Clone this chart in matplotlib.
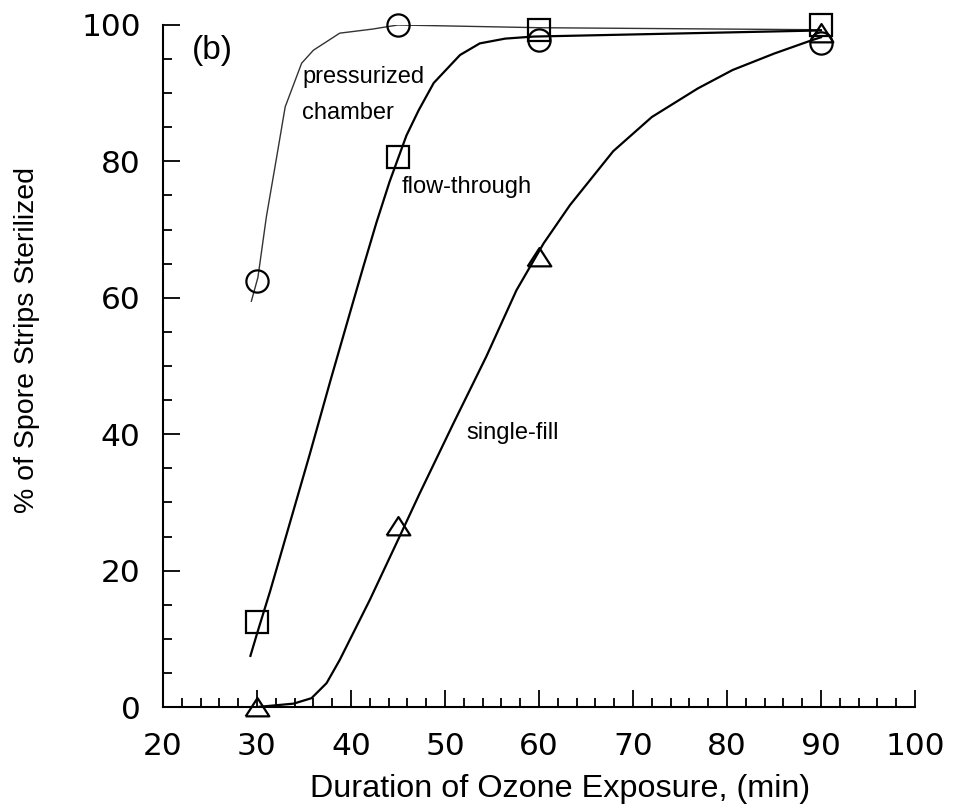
import matplotlib
matplotlib.use('Agg')
import matplotlib.pyplot as plt
from matplotlib.ticker import MultipleLocator

# %% punkty pomiarowe
czas = [30, 45, 60, 90]
komora = [62.5, 100, 97.8, 97.4]        # pressurized chamber (kolka)
przeplyw = [12.5, 80.6, 99.3, 100]      # flow-through (kwadraty)
jednorazowe = [0, 26.5, 66, 98.8]       # single-fill (trojkaty)

# %% krzywe
komora_x = [29.4, 30.1, 31.0, 32.1, 33.0, 34.75, 36.0, 38.8, 42.3, 45.0, 60.0, 90.0]
komora_y = [59.5, 63.0, 71.9, 80.7, 88.0, 94.4, 96.3, 98.8, 99.4, 100.0, 99.6, 99.3]

przeplyw_x = [29.3, 30.1, 31.4, 33.5, 35.6, 37.8, 40.1, 41.3, 42.7, 44.1, 45.0, 45.9,
              47.2, 48.8, 51.6, 53.7, 56.4, 59.4, 90.0]
przeplyw_y = [7.5, 11.2, 17.0, 27.0, 37.0, 47.8, 58.8, 64.5, 71.0, 77.0, 80.4, 83.8,
              87.5, 91.5, 95.6, 97.3, 98.0, 98.3, 99.2]

jednorazowe_x = [30.0, 33.9, 35.8, 37.4, 38.8, 42.0, 45.0, 47.3, 50.9, 54.4, 57.6, 60.5,
                 63.3, 67.9, 72.0, 76.9, 80.6, 85.0, 89.1, 90.0]
jednorazowe_y = [0.0, 0.5, 1.3, 3.5, 6.9, 15.7, 24.5, 31.3, 41.6, 51.4, 61.1, 68.0,
                 73.6, 81.5, 86.5, 90.7, 93.4, 95.8, 97.8, 98.2]

# %% wykres
fig = plt.figure(figsize=(9.56, 8.11), dpi=100)
ax = fig.add_axes([0.1705, 0.1282, 0.7866, 0.841])

ax.plot(komora_x, komora_y, color='#333333', linewidth=1.0)
ax.plot(przeplyw_x, przeplyw_y, color='black', linewidth=1.6)
ax.plot(jednorazowe_x, jednorazowe_y, color='black', linewidth=1.6)

trojkat = [(-1, -0.75), (1, -0.75), (0, 0.8), (-1, -0.75)]
ax.plot(czas, komora, linestyle='none', marker='o', markersize=16,
        markerfacecolor='none', markeredgecolor='black', markeredgewidth=1.6, clip_on=False)
ax.plot(czas, przeplyw, linestyle='none', marker='s', markersize=16,
        markerfacecolor='none', markeredgecolor='black', markeredgewidth=1.6, clip_on=False)
ax.plot(czas, jednorazowe, linestyle='none', marker=trojkat, markersize=17,
        markerfacecolor='none', markeredgecolor='black', markeredgewidth=1.6, clip_on=False)

ax.set_xlim(20, 100)
ax.set_ylim(0, 100)
ax.xaxis.set_major_locator(MultipleLocator(10))
ax.xaxis.set_minor_locator(MultipleLocator(2))
ax.yaxis.set_major_locator(MultipleLocator(20))
ax.yaxis.set_minor_locator(MultipleLocator(5))

for s in ['top', 'right']:
    ax.spines[s].set_visible(False)
for s in ['left', 'bottom']:
    ax.spines[s].set_linewidth(1.5)

ax.tick_params(axis='both', which='both', direction='in', width=1.3, labelsize=22.5)
ax.tick_params(axis='both', which='major', length=12)
ax.tick_params(axis='both', which='minor', length=6.5)
ax.tick_params(axis='y', which='major', pad=16)
ax.tick_params(axis='x', which='major', pad=18)
for lab in ax.get_xticklabels() + ax.get_yticklabels():
    lab.set_family('DejaVu Sans')

napisy = 'Liberation Sans'
ax.text(23.1, 96.3, '(b)', fontsize=24, family=napisy, ha='left', va='center')
ax.text(34.8, 92.4, 'pressurized', fontsize=17, family=napisy, ha='left', va='center')
ax.text(34.8, 87.1, 'chamber', fontsize=17, family=napisy, ha='left', va='center')
ax.text(45.4, 76.2, 'flow-through', fontsize=17, family=napisy, ha='left', va='center')
ax.text(52.3, 40.2, 'single-fill', fontsize=17, family=napisy, ha='left', va='center')

fig.text(310 / 956, 1 - 789 / 811, 'Duration of Ozone Exposure, (min)', fontsize=23.3,
         family=napisy, ha='left', va='center')
fig.text(27 / 956, 1 - 340 / 811, '% of Spore Strips Sterilized', fontsize=20.5,
         family=napisy, rotation=90, ha='center', va='center')

plt.savefig('out.png', dpi=100)
